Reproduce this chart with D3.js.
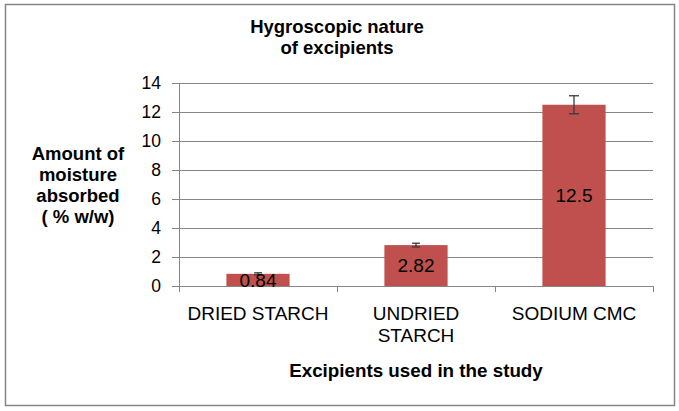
<!DOCTYPE html>
<html><head><meta charset="utf-8">
<script src="https://cdn.jsdelivr.net/npm/d3@7"></script>
<style>
html,body{margin:0;padding:0;background:#fff;}
svg{display:block;font-family:"Liberation Sans",Arial,sans-serif;}
</style></head>
<body>
<svg id="chart" width="679" height="411"></svg>
<script>
const categories = [["DRIED STARCH"], ["UNDRIED", "STARCH"], ["SODIUM CMC"]];
const values = [0.84, 2.82, 12.5];
const errors = [0.07, 0.13, 0.62];
const valueLabels = ["0.84", "2.82", "12.5"];
const yTicks = [0, 2, 4, 6, 8, 10, 12, 14];
const titleLines = ["Hygroscopic nature", "of excipients"];
const yTitleLines = ["Amount of", "moisture", "absorbed", "( % w/w)"];
const xTitle = "Excipients used in the study";

const svg = d3.select("#chart");
const L = 179, R = 653, T = 83, B = 286;

svg.append("rect").attr("x", 5.5).attr("y", 4.5).attr("width", 669).attr("height", 401)
  .attr("fill", "#fff").attr("stroke", "#868686").attr("stroke-width", 1.5);

const x = d3.scaleBand().domain(d3.range(values.length)).range([L, R]).paddingInner(0.6).paddingOuter(0.3);
const xb = d3.scaleBand().domain(d3.range(values.length)).range([L, R]);
const y = d3.scaleLinear().domain([0, 14]).range([B, T]);

// gridlines + y ticks
const yAxis = d3.axisLeft(y).tickValues(yTicks).tickSize(7).tickPadding(11).tickFormat(d3.format("d"));
const gy = svg.append("g").attr("transform", `translate(${L},0)`).call(yAxis);
gy.select(".domain").attr("stroke", "#868686");
gy.selectAll(".tick line").attr("stroke", "#868686");
gy.selectAll(".tick text").attr("font-size", 17.5).attr("fill", "#000").attr("font-family", "Liberation Sans, Arial, sans-serif");
svg.append("g").selectAll("line").data(yTicks.filter(d => d > 0)).join("line")
  .attr("x1", L).attr("x2", R).attr("y1", d => Math.round(y(d)) + 0.5).attr("y2", d => Math.round(y(d)) + 0.5)
  .attr("stroke", "#868686").attr("stroke-width", 1);

// bars
svg.append("g").selectAll("rect").data(values).join("rect")
  .attr("x", (d, i) => x(i)).attr("width", x.bandwidth())
  .attr("y", d => y(d)).attr("height", d => B - y(d))
  .attr("fill", "#C0504D");

// x axis
const bounds = [0, 1, 2].map(i => xb(i)).concat([R]);
svg.append("line").attr("x1", L - 7).attr("x2", R).attr("y1", B + 0.5).attr("y2", B + 0.5).attr("stroke", "#868686");
svg.append("g").selectAll("line").data(bounds).join("line")
  .attr("x1", d => Math.round(d) + 0.5).attr("x2", d => Math.round(d) + 0.5).attr("y1", B).attr("y2", B + 6)
  .attr("stroke", "#868686");

// error bars
const eg = svg.append("g").attr("stroke", "#3a3a3a").attr("stroke-width", 1.3);
values.forEach((v, i) => {
  const cx = x(i) + x.bandwidth() / 2;
  const hw = i === 2 ? 5 : 4;
  eg.append("line").attr("x1", cx).attr("x2", cx).attr("y1", y(v + errors[i])).attr("y2", y(v - errors[i]));
  eg.append("line").attr("x1", cx - hw).attr("x2", cx + hw).attr("y1", y(v + errors[i])).attr("y2", y(v + errors[i]));
  eg.append("line").attr("x1", cx - hw).attr("x2", cx + hw).attr("y1", y(v - errors[i])).attr("y2", y(v - errors[i]));
});

// value labels
svg.append("g").selectAll("text").data(values).join("text")
  .attr("x", (d, i) => x(i) + x.bandwidth() / 2).attr("y", d => y(d / 2) + 6.8)
  .attr("text-anchor", "middle").attr("font-size", 19).attr("fill", "#000")
  .text((d, i) => valueLabels[i]);

// category labels
categories.forEach((lines, i) => {
  const cx = xb(i) + xb.bandwidth() / 2;
  lines.forEach((ln, j) => {
    svg.append("text").attr("x", cx).attr("y", 319.5 + j * 22).attr("text-anchor", "middle")
      .attr("font-size", 19).attr("fill", "#000").text(ln);
  });
});

// titles
titleLines.forEach((ln, j) => {
  svg.append("text").attr("x", 337).attr("y", 33 + j * 21).attr("text-anchor", "middle")
    .attr("font-size", 18.5).attr("font-weight", "bold").attr("fill", "#000").text(ln);
});
yTitleLines.forEach((ln, j) => {
  svg.append("text").attr("x", 78).attr("y", 159.5 + j * 21).attr("text-anchor", "middle")
    .attr("font-size", 18.5).attr("font-weight", "bold").attr("fill", "#000").text(ln);
});
svg.append("text").attr("x", 416).attr("y", 377).attr("text-anchor", "middle")
  .attr("font-size", 18.8).attr("font-weight", "bold").attr("fill", "#000").text(xTitle);
</script>
</body></html>
